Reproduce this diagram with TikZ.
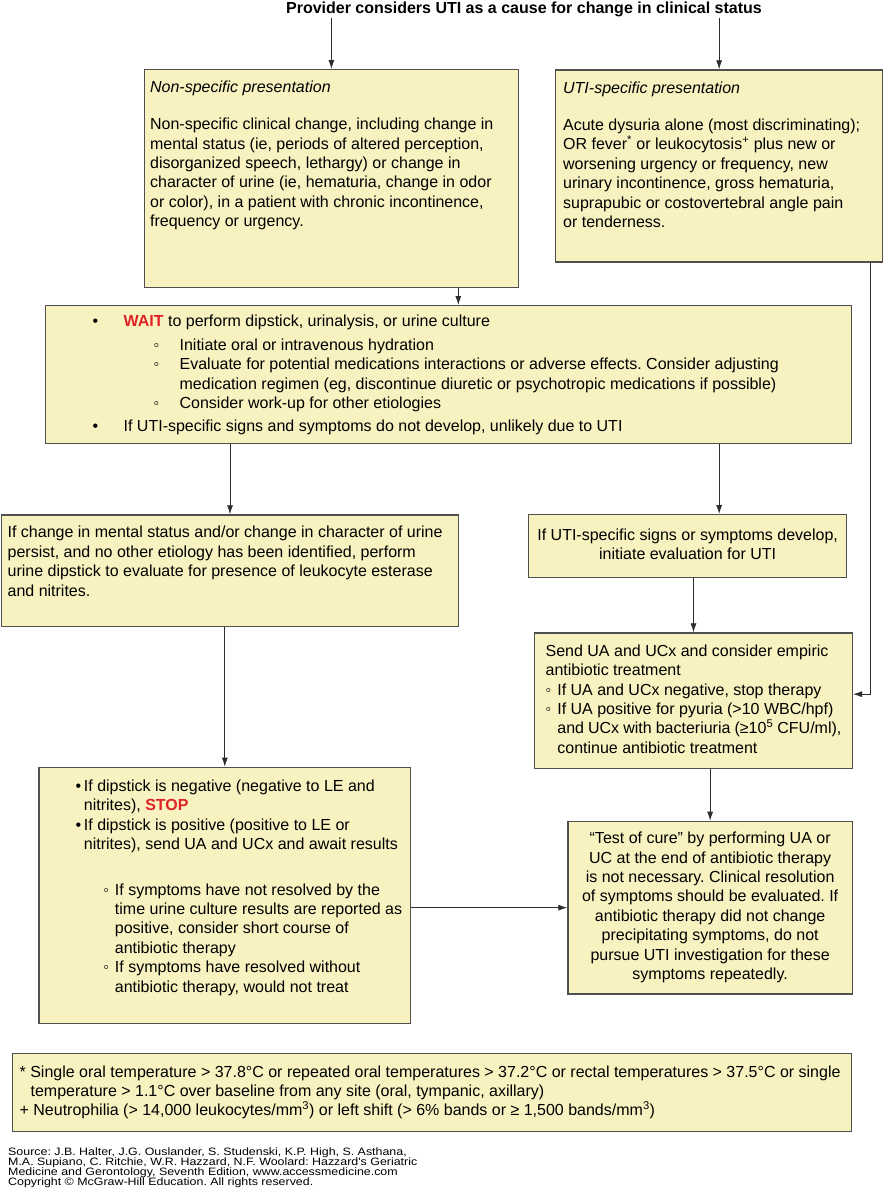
\documentclass[tikz,border=0pt]{standalone}
\usepackage{fontspec}
\setmainfont{Liberation Sans}
\newfontfamily\srcfont{Liberation Sans}[FakeStretch=1.16]
\usepackage{xcolor}
\usetikzlibrary{positioning, arrows, arrows.meta}
\definecolor{boxfill}{RGB}{248,242,192}
\definecolor{boxline}{RGB}{80,80,80}
\definecolor{linegray}{RGB}{45,45,45}
\definecolor{uired}{RGB}{222,35,40}
\frenchspacing
\newcommand{\bodysize}{\fontsize{16}{19.4}\selectfont}
\newcommand{\srcsize}{\srcfont\fontsize{10.7}{10}\selectfont\lineskiplimit=-5pt\relax}
\newcommand{\subb}{◦}
\newcommand{\redword}[1]{\textcolor{uired}{\textbf{#1}}}

\begin{document}
\begin{tikzpicture}[x=1pt,y=-1pt,
  flowbox/.style={draw=boxline, line width=1.3pt, fill=boxfill, anchor=north west,
    inner xsep=0pt, inner ysep=0pt, font=\bodysize},
  arr/.style={-{Latex[length=9pt,width=6pt]}, line width=0.8pt, draw=linegray}]
\useasboundingbox (0,0) rectangle (885,1189);

\node[font=\bfseries\bodysize, inner sep=1pt, anchor=base] (title) at (524,13.5)
{Provider considers UTI as a cause for change in clinical status};

% the two presentations
\node[flowbox, inner xsep=6pt, inner ysep=9pt] (A) at (143.5,69)
{\parbox[c][200pt][t]{362.5pt}{\raggedright\strut\textit{Non-specific presentation}\\[18pt]
Non-specific clinical change, including change in\\
mental status (ie, periods of altered perception,\\
disorganized speech, lethargy) or change in\\
character of urine (ie, hematuria, change in odor\\
or color), in a patient with chronic incontinence,\\
frequency or urgency.}};
\node[flowbox, inner xsep=7.5pt, inner ysep=10.35pt] (B) at (555,69.3)
{\parbox[c][171.3pt][t]{312pt}{\raggedright\strut\textit{UTI-specific presentation}\\[17.3pt]
Acute dysuria alone (most discriminating);\\
OR fever\textsuperscript{*} or leukocytosis\textsuperscript{+} plus new or\\
worsening urgency or frequency, new\\
urinary incontinence, gross hematuria,\\
suprapubic or costovertebral angle pain\\
or tenderness.}};

\node[flowbox, inner ysep=7.35pt] (C) at (45,305)
{\parbox[c][123.3pt][t]{806pt}{\raggedright
\strut\hspace*{47pt}\makebox[31pt][l]{•}\redword{WAIT} to perform dipstick, urinalysis, or urine culture\\[4.5pt]
\hspace*{108pt}\makebox[26pt][l]{\subb}Initiate oral or intravenous hydration\\
\hspace*{108pt}\makebox[26pt][l]{\subb}Evaluate for potential medications interactions or adverse effects. Consider adjusting\\
\hspace*{134pt}medication regimen (eg, discontinue diuretic or psychotropic medications if possible)\\
\hspace*{108pt}\makebox[26pt][l]{\subb}Consider work-up for other etiologies\\[3.5pt]
\hspace*{47pt}\makebox[31pt][l]{•}If UTI-specific signs and symptoms do not develop, unlikely due to UTI}};

\node[flowbox, inner xsep=6.3pt, inner ysep=9.35pt] (D) at (0.7,514.3)
{\parbox[c][93pt][t]{444.7pt}{\raggedright\strut If change in mental status and/or change in character of urine\\
persist, and no other etiology has been identified, perform\\
urine dipstick to evaluate for presence of leukocyte esterase\\
and nitrites.}};
\node[flowbox] (E) at (528,514)
{\parbox[c][63pt][c]{318pt}{\centering\strut If UTI-specific signs or symptoms develop,\\
initiate evaluation for UTI\strut}};

\node[flowbox, inner xsep=11pt, inner ysep=9.75pt] (F) at (534,632.3)
{\parbox[c][115.9pt][t]{295.7pt}{\raggedright\strut Send UA and UCx and consider empiric\\
antibiotic treatment\\
\makebox[11.7pt][l]{\subb}If UA and UCx negative, stop therapy\\
\makebox[11.7pt][l]{\subb}If UA positive for pyuria (>10 WBC/hpf)\\
\hspace*{11.7pt}and UCx with bacteriuria (≥10\textsuperscript{5} CFU/ml),\\
\hspace*{11.7pt}continue antibiotic treatment}};

\node[flowbox, inner ysep=10.35pt] (G) at (38.3,766.7)
{\parbox[c][235.6pt][t]{371.7pt}{\raggedright
\strut\hspace*{36.7pt}\makebox[8.3pt][l]{•}If dipstick is negative (negative to LE and\\
\hspace*{45pt}nitrites), \redword{STOP}\\
\hspace*{36.7pt}\makebox[8.3pt][l]{•}If dipstick is positive (positive to LE or\\
\hspace*{45pt}nitrites), send UA and UCx and await results\\[26.3pt]
\hspace*{64.4pt}\makebox[11.6pt][l]{\subb}If symptoms have not resolved by the\\
\hspace*{76pt}time urine culture results are reported as\\
\hspace*{76pt}positive, consider short course of\\
\hspace*{76pt}antibiotic therapy\\
\hspace*{64.4pt}\makebox[11.6pt][l]{\subb}If symptoms have resolved without\\
\hspace*{76pt}antibiotic therapy, would not treat}};
\node[flowbox] (H) at (567.3,820.7)
{\parbox[c][172.6pt][c]{284.4pt}{\centering\strut “Test of cure” by performing UA or\\
UC at the end of antibiotic therapy\\
is not necessary. Clinical resolution\\
of symptoms should be evaluated. If\\
antibiotic therapy did not change\\
precipitating symptoms, do not\\
pursue UTI investigation for these\\
symptoms repeatedly.\strut}};

% footnotes and source
\node[flowbox, inner xsep=7pt] (note) at (12,1053)
{\parbox[c][78pt][c]{825pt}{\raggedright\strut * Single oral temperature > 37.8°C or repeated oral temperatures > 37.2°C or rectal temperatures > 37.5°C or single\\
\hspace*{11pt}temperature > 1.1°C over baseline from any site (oral, tympanic, axillary)\\
+ Neutrophilia (> 14,000 leukocytes/mm\textsuperscript{3}) or left shift (> 6\% bands or ≥ 1,500 bands/mm\textsuperscript{3})\strut}};
\node[anchor=south west, inner sep=0pt, align=left, font=\srcsize] (src) at (8,1187.5)
{Source: J.B. Halter, J.G. Ouslander, S. Studenski, K.P. High, S. Asthana,\\
M.A. Supiano, C. Ritchie, W.R. Hazzard, N.F. Woolard: Hazzard's Geriatric\\
Medicine and Gerontology, Seventh Edition, www.accessmedicine.com\\
Copyright © McGraw-Hill Education. All rights reserved.};

% connectors
\coordinate (a out) at ([xshift=-61pt]A.south east);
\coordinate (b out) at ([xshift=-13pt]B.south east);
\coordinate (f in) at ([yshift=6.5pt]F.east);
\draw[arr] (A.north |- title.south) -- (A.north);
\draw[arr] (B.north |- title.south) -- (B.north);
\draw[arr] (a out) -- (a out |- C.north);
\draw[arr] (D.north |- C.south) -- (D.north);
\draw[arr] (B.north |- C.south) -- (B.north |- E.north);
\draw[arr] (E.south -| F.north) -- (F.north);
\draw[arr] (G.north |- D.south) -- (G.north);
\draw[arr] (H.north |- F.south) -- (H.north);
\draw[arr] (H.west -| G.east) -- (H.west);
\draw[arr] (b out) |- (f in);
\end{tikzpicture}
\end{document}
